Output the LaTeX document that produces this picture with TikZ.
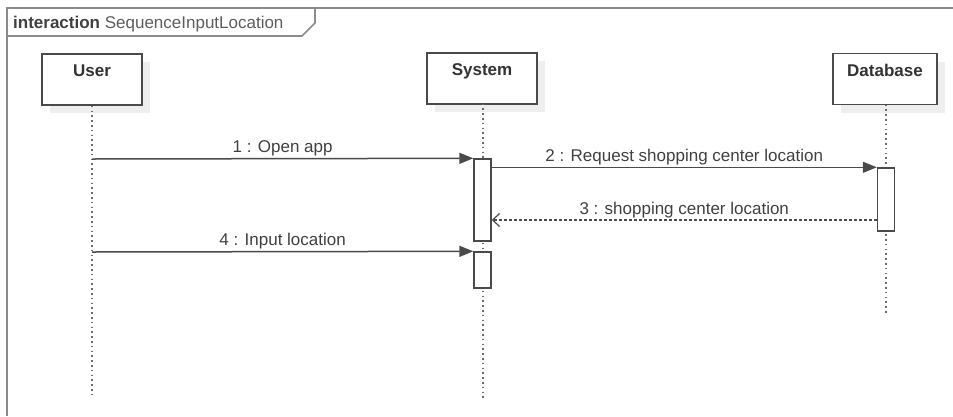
\documentclass[tikz,border=0pt]{standalone}
\usepackage{fontspec}
\setmainfont{Liberation Sans}
\usetikzlibrary{arrows.meta,shadows}
\definecolor{ink}{HTML}{4A4A4A}
\definecolor{txt}{HTML}{404040}
\definecolor{framec}{HTML}{8C8C8C}
\definecolor{shade}{HTML}{EEEEEE}
\definecolor{lifec}{HTML}{6A6A6A}

\begin{document}
\begin{tikzpicture}[x=1pt,y=-1pt,
  font=\fontsize{17}{20}\selectfont, text=txt,
  head/.style={draw=ink, line width=1.6pt, fill=white, minimum height=51pt,
    inner sep=0pt, drop shadow={shadow xshift=8pt, shadow yshift=-8pt, fill=shade, opacity=1}},
  headlabel/.style={anchor=north, inner sep=0pt, yshift=-11pt,
    font=\fontsize{17}{20}\selectfont\bfseries, text=txt!80!black},
  act/.style={draw=ink, line width=1.4pt, fill=white, minimum width=17pt, inner sep=0pt},
  life/.style={draw=lifec, line width=1.6pt, dash pattern=on 1.6pt off 3.2pt},
  sync/.style={draw=ink, line width=1.5pt, -{Triangle[length=14pt,width=11pt]}},
  reply/.style={draw=ink, line width=1.4pt, dash pattern=on 2.5pt off 2.5pt,
    -{Straight Barb[length=7pt,width=13pt,line width=1.2pt]}},
  msglabel/.style={midway, above, inner sep=1.5pt},
]
\useasboundingbox (0,0) rectangle (953,416);

% frame with its name tab
\draw[framec, line width=2pt] (7,416) -- (7,8) -- (953,8);
\draw[framec, line width=1.6pt] (7,36) -- (302,36) -- (315,23) -- (315,8);
\node[anchor=base west, inner sep=0pt] (frametitle) at (13,28)
  {\textbf{interaction} \textcolor{txt!85}{SequenceInputLocation}};

% lifeline heads
\node[head, minimum width=100pt, label={[headlabel]north:User}] (user) at (92,79.5) {};
\node[head, minimum width=110pt, label={[headlabel]north:System}] (system) at (482,78.5) {};
\node[head, minimum width=104pt, label={[headlabel]north:Database}] (db) at (885,79) {};

% lifeline ends
\coordinate (userend) at (92,398);
\coordinate (sysend) at (483,398);
\coordinate (dbend) at (886,313);

\draw[life] (user.south) -- (userend);
\draw[life] (483,103.5) -- (sysend);
\draw[life] (886,104.5) -- (dbend);

% activation bars
\node[act, minimum height=82pt] (a1) at (482.5,200) {};
\node[act, minimum height=36pt] (a2) at (482.5,270) {};
\node[act, minimum height=63pt] (d1) at (886,199.5) {};

% messages
\coordinate (m1) at (92,159);
\coordinate (m4) at (92,252);
\coordinate (y3) at (0,220);

\draw[sync] (m1) -- (a1.north west) node[msglabel] {1 : Open app};
\draw[sync] (a1.east |- d1.north) -- (d1.north west) node[msglabel] {2 : Request shopping center location};
\draw[reply] (d1.west |- y3) -- (a1.east |- y3) node[msglabel] {3 : shopping center location};
\draw[sync] (m4) -- (a2.north west) node[msglabel] {4 : Input location};
\end{tikzpicture}
\end{document}
